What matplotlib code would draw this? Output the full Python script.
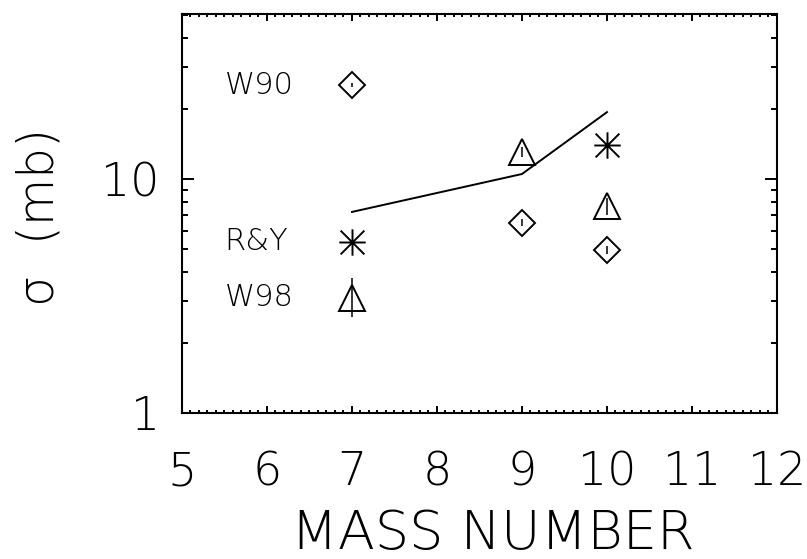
import matplotlib
matplotlib.use("Agg")
import matplotlib.pyplot as plt
from matplotlib.path import Path
from matplotlib.ticker import MultipleLocator, LogLocator, NullFormatter

plt.rcParams['font.family'] = ['DejaVu Sans']
plt.rcParams['font.weight'] = 200
plt.rcParams['axes.labelweight'] = 200
plt.rcParams['mathtext.default'] = 'regular'

# calculation (solid line)
calc_a = [7, 9, 10]
calc_sigma = [7.23, 10.5, 19.3]

# W90 (diamonds)
w90_a = [7, 9, 10]
w90_sigma = [25.2, 6.49, 4.97]
w90_lo = [24.7, 6.27, 4.78]
w90_hi = [25.7, 6.72, 5.17]

# R&Y (asterisks)
ry_a = [7, 10]
ry_sigma = [5.38, 13.97]

# W98 (triangles)
w98_a = [7, 9, 10]
w98_sigma = [3.11, 13.0, 7.63]
w98_lo = [2.57, 12.4, 7.02]
w98_hi = [3.78, 13.7, 8.28]

labels = ["W90", "R&Y", "W98"]
label_y = [25.2, 5.38, 3.11]

# IDL style asterisk: horizontal, vertical and two diagonals
d = 0.9
verts = [(-1, 0), (1, 0), (0, -1), (0, 1), (-d, -d), (d, d), (-d, d), (d, -d)]
codes = [Path.MOVETO, Path.LINETO] * 4
asterisk = Path(verts, codes)

fig = plt.figure(figsize=(8.07, 5.59), dpi=100)
ax = fig.add_axes([0.2255, 0.2612, 0.7373, 0.7138])

ax.plot(calc_a, calc_sigma, color='black', lw=1.4)

def errs(v, lo, hi):
    return [[a - b for a, b in zip(v, lo)], [b - a for a, b in zip(v, hi)]]

ax.errorbar(w90_a, w90_sigma, yerr=errs(w90_sigma, w90_lo, w90_hi), fmt='none',
            ecolor='black', elinewidth=1.1, capsize=0)
ax.plot(w90_a, w90_sigma, ls='none', marker='D', ms=13.6, mfc='none',
        mec='black', mew=1.4)

ax.plot(ry_a, ry_sigma, ls='none', marker=asterisk, ms=19, mec='black', mew=1.4)

ax.errorbar(w98_a, w98_sigma, yerr=errs(w98_sigma, w98_lo, w98_hi), fmt='none',
            ecolor='black', elinewidth=1.1, capsize=0)
ax.plot(w98_a, w98_sigma, ls='none', marker='^', ms=19, mfc='none',
        mec='black', mew=1.4)

for lab, yv in zip(labels, label_y):
    ax.text(5.5, yv, lab, ha='left', va='center', fontsize=22, fontweight=200)

ax.set_xlim(5, 12)
ax.set_yscale('log')
ax.set_ylim(1, 50.7)

ax.xaxis.set_major_locator(MultipleLocator(1))
ax.xaxis.set_minor_locator(MultipleLocator(0.1))
ax.set_yticks([1, 10], ['1', '10'])
ax.yaxis.set_minor_locator(LogLocator(base=10, subs=range(2, 10)))
ax.yaxis.set_minor_formatter(NullFormatter())

ax.tick_params(axis='both', which='both', direction='in', top=True, right=True,
               width=1.4, color='black')
ax.tick_params(axis='x', which='major', length=5, pad=27, labelsize=33)
ax.tick_params(axis='x', which='minor', length=2.2)
ax.tick_params(axis='y', which='major', length=8.6, pad=16, labelsize=33)
ax.tick_params(axis='y', which='minor', length=4.3)
for sp in ax.spines.values():
    sp.set_linewidth(1.5)

ax.set_xlabel('MASS NUMBER', fontsize=39, fontweight=200)
ax.xaxis.set_label_coords(0.523, -0.303)
ax.xaxis.label.set_va('center')
ax.set_ylabel('σ  (mb)', fontsize=35, fontweight=200)
ax.yaxis.set_label_coords(-0.239, 0.49)
ax.yaxis.label.set_va('center')
ax.yaxis.label.set_ha('center')

fig.savefig('out.png', dpi=100)
